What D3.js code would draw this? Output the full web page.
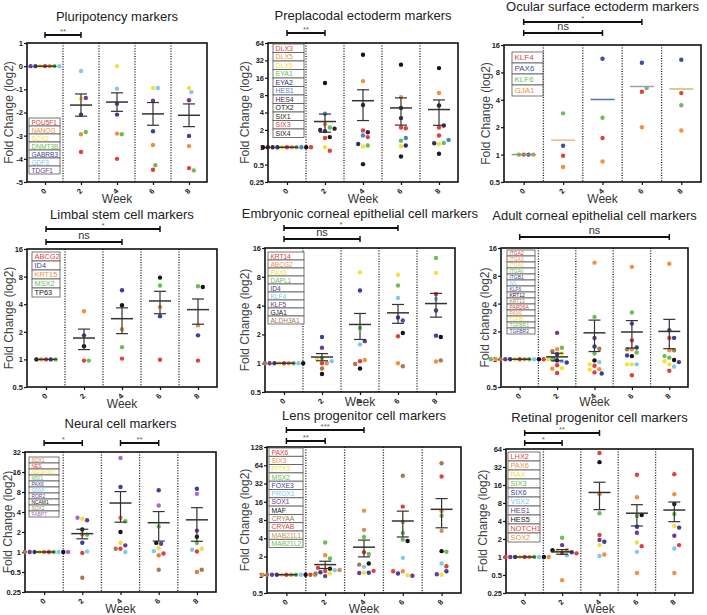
<!DOCTYPE html>
<html><head><meta charset="utf-8">
<script src="https://cdn.jsdelivr.net/npm/d3@7"></script>
<style>body{margin:0;background:#fff} svg{display:block;font-family:"Liberation Sans",Arial,sans-serif}</style>
</head><body><svg id="c" width="707" height="615"></svg>
<script>
const weeks = [0,2,4,6,8];
const weekLabels = ["0","2","4","6","8"];
const RED="#e2403a", ORANGE="#f09040", YELLOW="#f2e040", GREEN="#6dbd55", NAVY="#3c3f96", BLUE="#4f7fcf",
      LBLUE="#80c8ec", PURPLE="#6c3c90", BLACK="#141414", BROWN="#a57a4e", VIOLET="#a868cc", SALMON="#ee7050";

// 1 Pluripotency (log2 values)
const pluriGenes = ["POU5F1","NANOG","SOX2","DNMT3B","GABRB3","GDF3","TDGF1"];
const pluriColors = [RED,ORANGE,YELLOW,GREEN,NAVY,LBLUE,PURPLE];
const pluriValues = [
  [0,-3.7,-4.0,-4.47,-4.4],
  [0,-2.94,-2.91,-3.4,-3.45],
  [0,-1.4,0.0,-0.94,-0.94],
  [0,-2.84,-2.94,-4.28,-4.5],
  [0,-2.09,-2.09,-2.81,-3.01],
  [0,-0.21,-0.97,-0.94,-1.12],
  [0,-1.37,-1.62,-1.49,-1.47]];
const pluriMean = [0,-1.68,-1.55,-2.06,-2.12];
const pluriSem = [0,0.48,0.40,0.49,0.49];
const pluriTicks = [1,0,-1,-2,-3,-4,-5];

// 2 Preplacodal
const prepGenes = ["DLX3","DLX5","DLX6","EYA1","EYA2","HES1","HES4","OTX2","SIX1","SIX3","SIX4"];
const prepColors = [RED,ORANGE,YELLOW,GREEN,"#2c2c6c",BLUE,"#3a1f4a",BLACK,"#2e2418",RED,"#1c1c1c"];
const prepValues = [
  [1,1.45,1.95,2.2,2.2],
  [1,2.5,14,7.4,8.7],
  [1,1.0,1.03,1.04,1.14],
  [1,2.2,1.07,1.3,1.19],
  [1,1.9,1.14,1.07,1.17],
  [1,3.8,1.6,1.45,1.34],
  [1,2.0,1.82,3.2,2.38],
  [1,13,40,27,23.5],
  [1,2.1,5.4,4.8,5.3],
  [1,0.87,1.5,2.14,1.6],
  [1,1.5,0.51,0.69,0.77]];
const prepMean = [1,2.79,6.4,4.8,4.5];
const prepSem = [0,0.97,3.5,2.38,2.1];
const prepTicks = [0.25,0.5,1,2,4,8,16,32,64];

// 3 Ocular surface ectoderm
const ocuGenes = ["KLF4","PAX6","KLF6","GJA1"];
const ocuColors = [RED,"#3d4fa0",GREEN,ORANGE];
const ocuValues = [
  [1,0.97,1.52,4.9,4.74],
  [1,1.25,11.3,10.2,11.0],
  [1,2.84,2.54,5.4,3.48],
  [1,0.73,0.84,2.0,1.84]];
const ocuMean = [1,1.44,4.03,5.6,5.26];
const ocuSem = [0,0,0,0,0];
const ocuMeanColors = ["#8c9c80","#f5b58a","#4f6fc0","#a898b8","#d8b468"];
const ocuTicks = [0.5,1,2,4,8,16];

// 4 Limbal stem cell
const limbGenes = ["ABCG2","ID4","KRT15","MSX2","TP63"];
const limbColors = [RED,NAVY,ORANGE,GREEN,BLACK];
const limbValues = [
  [1,0.97,1.02,0.99,0.97],
  [1,1.83,5.68,2.95,1.83],
  [1,3.35,2.13,3.73,2.35],
  [1,0.97,1.36,6.4,6.27],
  [1,1.39,3.89,7.8,6.17]];
const limbMean = [1,1.71,2.78,4.34,3.49];
const limbSem = [0,0.43,0.87,1.19,1.07];
const limbTicks = [0.5,1,2,4,8,16];

// 5 Embryonic corneal epithelial
const embGenes = ["KRT14","ABCG2","PAX6","DAPL1","ID4","KLF4","KLF5","GJA1","ALDH3A1"];
const embColors = [RED,ORANGE,YELLOW,GREEN,NAVY,LBLUE,PURPLE,BLACK,BROWN];
const embValues = [
  [1,1.0,1.05,1.91,5.3],
  [1,1.0,1.08,1.0,1.04],
  [1,1.1,8.9,8.4,8.8],
  [1,1.13,2.34,6.5,12.6],
  [1,1.88,5.75,3.0,1.94],
  [1,1.05,1.57,4.8,4.7],
  [1,1.45,1.7,2.8,3.55],
  [1,0.77,0.88,2.07,1.88],
  [1,0.88,0.98,0.93,1.07]];
const embMean = [1,1.16,2.54,3.36,4.2];
const embSem = [0,0.1,0.77,0.75,1.17];
const embTicks = [0.5,1,2,4,8,16];

// 6 Adult corneal epithelial
const aduGenes = ["ITGA2","ITGA3","ITGA6","ITGAV","ITGB1","IVL","KLF6","KRT12","KRT13","PARD6A","PAX6","TGFBI","TGFBR1","TGFBR2"];
const aduColors = [RED,ORANGE,YELLOW,GREEN,NAVY,LBLUE,PURPLE,BLACK,BROWN,RED,ORANGE,YELLOW,GREEN,NAVY];
const aduValues = [
  [1,0.86,0.85,1.6,1.7],
  [1,1.28,0.78,1.28,1.25],
  [1,0.8,0.77,0.88,0.88],
  [1,1.33,2.87,3.2,1.04],
  [1,1.13,1.37,1.34,1.7],
  [1,0.95,0.93,0.88,0.83],
  [1,1.93,1.7,2.43,2.06],
  [1,0.97,0.97,1.08,0.98],
  [1,1.22,1.3,1.28,1.25],
  [1,0.71,0.72,0.67,0.75],
  [1,0.79,11.1,10.0,10.8],
  [1,1.15,0.88,0.88,0.95],
  [1,1.0,1.15,1.18,1.08],
  [1,0.92,0.7,1.1,0.93]];
const aduMean = [1,1.06,1.93,1.97,2.0];
const aduSem = [0,0.1,0.72,0.65,0.7];
const aduTicks = [0.5,1,2,4,8,16];

// 7 Neural
const neuGenes = ["SOX1","NES","NEUROD1","MSI1","PAX6","GFAP","ROR2","NCAM1","SOX2","FABP7"];
const neuColors = ["#e07b39",RED,YELLOW,GREEN,NAVY,LBLUE,PURPLE,BLACK,BROWN,VIOLET];
const neuValues = [
  [1,1.84,3.28,0.89,0.5],
  [1,0.97,1.12,0.95,1.02],
  [1,3.17,1.38,1.15,1.12],
  [1,1.82,2.9,2.43,1.37],
  [1,1.38,9.5,8.5,8.96],
  [1,1.02,1.0,1.03,1.08],
  [1,3.0,1.26,1.33,2.1],
  [1,2.19,2.0,1.37,1.7],
  [1,0.41,1.12,0.54,0.54],
  [1,3.28,26,5.0,7.5]];
const neuMean = [1,1.89,5.46,2.76,3.05];
const neuSem = [0,0.31,2.65,1.3,1.6];
const neuTicks = [0.25,0.5,1,2,4,8,16,32];

// 8 Lens progenitor
const lensGenes = ["PAX6","SIX3","PITX3","MSX2","FOXE3","PROX1","SOX1","MAF","CRYAA","CRYAB","MAB21L1","MAB21L2"];
const lensColors = [RED,ORANGE,YELLOW,GREEN,NAVY,LBLUE,PURPLE,BLACK,BROWN,RED,"#d09050",GREEN];
const lensValues = [
  [1,1.15,2.36,13.3,41.7],
  [1,2.1,11.4,1.14,11.3],
  [1,1.05,1.08,0.98,1.0],
  [1,3.4,4.2,3.8,9.4],
  [1,1.1,1.08,1.05,1.14],
  [1,1.19,1.35,1.9,1.53],
  [1,0.95,1.07,0.96,1.02],
  [1,1.26,1.53,3.6,2.45],
  [1,1.05,1.47,43,69],
  [1,1.3,1.16,1.14,1.38],
  [1,1.2,5.5,7.5,5.3],
  [1,1.85,2.2,4.9,2.4]];
const lensMean = [1,1.47,2.85,7.7,12];
const lensSem = [0,0.2,0.88,3.5,6.05];
const lensTicks = [0.5,1,2,4,8,16,32,64,128];

// 9 Retinal progenitor
const retGenes = ["LHX2","PAX6","RAX","SIX3","SIX6","VSX2","HES1","HES5","NOTCH1","SOX2"];
const retColors = [RED,ORANGE,YELLOW,GREEN,NAVY,LBLUE,PURPLE,BLACK,RED,ORANGE];
const retValues = [
  [1,1.17,55,23.7,24.3],
  [1,1.3,11.2,10,11.2],
  [1,1.25,1.58,1.75,3.3],
  [1,2.1,5.4,4.85,5.25],
  [1,1.2,1.8,3.2,3.1],
  [1,1.07,1.04,1.22,1.39],
  [1,1.58,1.92,2.55,2.27],
  [1,1.3,38.6,5.05,7.7],
  [1,1.15,2.33,1.52,1.58],
  [1,0.41,1.1,0.54,0.54]];
const retMean = [1,1.22,12,5.4,6.1];
const retSem = [0,0.11,5.8,2.1,2.2];
const retTicks = [0.25,0.5,1,2,4,8,16,32,64];

const YL = "Fold Change (log2)";
const panels = [
 {title:"Pluripotency markers", genes:pluriGenes, colors:pluriColors, values:pluriValues, mean:pluriMean, sem:pluriSem, ticks:pluriTicks, log:false, dom:[-5,1],
  L:27,T:43,W:180,H:139, titleY:21, ylx:9, ylabel:YL, leg:[29,118,31,8], weekDy:21,
  brackets:[{a:0,b:2,y:35,t:"**"}]},
 {title:"Preplacodal ectoderm markers", genes:prepGenes, colors:prepColors, values:prepValues, mean:prepMean, sem:prepSem, ticks:prepTicks, log:true, dom:[0.25,64],
  L:268,T:43,W:190,H:139, titleY:20, ylx:245, ylabel:YL, leg:[273,44,31,8.5], weekDy:21,
  brackets:[{a:0,b:2,y:33,t:"**"}]},
 {title:"Ocular surface ectoderm markers", genes:ocuGenes, colors:ocuColors, values:ocuValues, mean:ocuMean, sem:ocuSem, meanColors:ocuMeanColors, ticks:ocuTicks, log:true, dom:[0.5,16],
  L:504,T:45,W:197,H:137, titleY:11, ylx:486, ylabel:YL, leg:[512,52,31,11], weekDy:21,
  brackets:[{a:0,b:6,y:22,t:"*"},{a:0,b:4,y:33,t:"ns"}]},
 {title:"Limbal stem cell markers", genes:limbGenes, colors:limbColors, values:limbValues, mean:limbMean, sem:limbSem, ticks:limbTicks, log:true, dom:[0.5,16],
  L:27,T:249,W:190,H:138, titleY:219, ylx:9, ylabel:YL, leg:[32,252,28,9], weekDy:21,
  brackets:[{a:0,b:6,y:229,t:"*"},{a:0,b:4,y:242,t:"ns"}]},
 {title:"Embryonic corneal epithelial cell markers", genes:embGenes, colors:embColors, values:embValues, mean:embMean, sem:embSem, ticks:embTicks, log:true, dom:[0.5,16],
  L:265,T:248,W:190,H:144, titleY:218, ylx:245, ylabel:YL, leg:[268,252,36,8], weekDy:14,
  brackets:[{a:0,b:6,y:228,t:"*"},{a:0,b:4,y:239,t:"ns"}]},
 {title:"Adult corneal epithelial cell markers", genes:aduGenes, colors:aduColors, values:aduValues, mean:aduMean, sem:aduSem, ticks:aduTicks, log:true, dom:[0.5,16],
  L:501,T:248,W:187,H:139, titleY:220, ylx:485, ylabel:"Fold change (log2)", leg:[507,250,28,6], weekDy:19,
  brackets:[{a:0,b:8,y:237,t:"ns"}]},
 {title:"Neural cell markers", genes:neuGenes, colors:neuColors, values:neuValues, mean:neuMean, sem:neuSem, ticks:neuTicks, log:true, dom:[0.25,32],
  L:25,T:452,W:191,H:140, titleY:428, ylx:8, ylabel:YL, leg:[29,457,30,6], weekDy:21,
  brackets:[{a:0,b:2,y:443,t:"*"},{a:4,b:6,y:443,t:"**"}]},
 {title:"Lens progenitor cell markers", genes:lensGenes, colors:lensColors, values:lensValues, mean:lensMean, sem:lensSem, ticks:lensTicks, log:true, dom:[0.5,128],
  L:267,T:447,W:194,H:146, titleY:420, ylx:245, ylabel:YL, leg:[269,448,34,8.3], weekDy:20,
  brackets:[{a:0,b:4,y:430,t:"***"},{a:0,b:2,y:441,t:"**"}]},
 {title:"Retinal progenitor cell markers", genes:retGenes, colors:retColors, values:retValues, mean:retMean, sem:retSem, ticks:retTicks, log:true, dom:[0.25,64],
  L:506,T:449,W:187,H:144, titleY:422, ylx:483, ylabel:YL, leg:[508,452,32,9], weekDy:20,
  brackets:[{a:0,b:4,y:433,t:"**"},{a:0,b:2,y:443,t:"*"}]}
];

const svg = d3.select("#c");
const R = 2.2;

function drawPanel(p){
  const g = svg.append("g");
  const x = d3.scaleLinear().domain([-1,9]).range([p.L, p.L+p.W]);
  const y = (p.log ? d3.scaleLog().base(2) : d3.scaleLinear()).domain(p.dom).range([p.T+p.H, p.T]);
  const B = p.T+p.H;

  g.append("text").attr("x",p.L+p.W/2).attr("y",p.titleY).attr("text-anchor","middle")
    .attr("font-size",13).attr("fill","#222").text(p.title);
  g.append("text").attr("transform",`translate(${p.ylx},${p.T+p.H/2}) rotate(-90)`)
    .attr("text-anchor","middle").attr("dominant-baseline","central").attr("font-size",12).attr("fill","#444").text(p.ylabel);

  [1,3,5,7].forEach(v=>{
    g.append("line").attr("x1",x(v)).attr("x2",x(v)).attr("y1",p.T).attr("y2",B)
      .attr("stroke","#111").attr("stroke-width",1.3).attr("stroke-dasharray","1,1.6");
  });

  const ya = g.append("g").attr("transform",`translate(${p.L},0)`)
    .call(d3.axisLeft(y).tickValues(p.ticks).tickSize(3).tickFormat(d=>String(d)));
  ya.select(".domain").remove();
  ya.selectAll("line").attr("stroke","#111").attr("stroke-width",1.2);
  ya.selectAll("text").attr("font-size",7.5).attr("font-weight","bold").attr("fill","#222").attr("x",-4);

  const xa = g.append("g").attr("transform",`translate(0,${B})`)
    .call(d3.axisBottom(x).tickValues(weeks).tickSize(3).tickFormat((d,i)=>weekLabels[i]));
  xa.select(".domain").remove();
  xa.selectAll("line").attr("stroke","#111").attr("stroke-width",1.2);
  xa.selectAll("text").attr("font-size",7.5).attr("font-weight","bold").attr("fill","#222")
    .attr("y",0).attr("dy",0).attr("text-anchor","middle")
    .attr("transform","translate(0,11) rotate(-45)");

  g.append("text").attr("x",p.L+p.W/2).attr("y",Math.min(B+p.weekDy,613)).attr("text-anchor","middle")
    .attr("font-size",12).attr("fill","#333").text("Week");

  g.append("rect").attr("x",p.L).attr("y",p.T).attr("width",p.W).attr("height",p.H)
    .attr("fill","none").attr("stroke","#111").attr("stroke-width",1.6);

  const [lx,ly,lw,rh] = p.leg;
  const fs = Math.min(8, rh*0.82);
  p.genes.forEach((gname,i)=>{
    g.append("rect").attr("x",lx).attr("y",ly+i*rh).attr("width",lw).attr("height",rh)
      .attr("fill","#fff").attr("stroke","#555").attr("stroke-width",0.8);
    g.append("text").attr("x",lx+2.5).attr("y",ly+i*rh+rh/2).attr("dominant-baseline","central")
      .attr("font-size",fs).attr("fill",p.colors[i]).text(gname);
  });

  weeks.forEach((w,j)=>{
    const cx = x(w), placed=[];
    p.genes.forEach((gname,i)=>{
      const py = y(p.values[i][j]);
      let px = cx;
      for(let k=0;k<40;k++){
        const off = (k===0?0:(k%2? 1:-1)*Math.ceil(k/2)*2.4);
        const tx = cx+off;
        if(placed.every(q=>Math.hypot(q[0]-tx,q[1]-py) >= 2*R+0.3)){ px=tx; break; }
      }
      placed.push([px,py]);
      g.append("circle").attr("cx",px).attr("cy",py).attr("r",R).attr("fill",p.colors[i]);
    });
  });

  weeks.forEach((w,j)=>{
    const cx=x(w), m=p.mean[j], s=p.sem[j];
    const col = p.meanColors ? p.meanColors[j] : "#333";
    const mw = p.meanColors ? 12 : 11;
    g.append("line").attr("x1",cx-mw).attr("x2",cx+mw).attr("y1",y(m)).attr("y2",y(m))
      .attr("stroke",col).attr("stroke-width",1.5);
    if(s>0){
      const hi=y(m+s), lo=y(m-s);
      g.append("line").attr("x1",cx).attr("x2",cx).attr("y1",hi).attr("y2",lo).attr("stroke","#333").attr("stroke-width",1.2);
      [hi,lo].forEach(yy=>g.append("line").attr("x1",cx-6).attr("x2",cx+6).attr("y1",yy).attr("y2",yy).attr("stroke","#333").attr("stroke-width",1.2));
    }
  });

  p.brackets.forEach(b=>{
    const x1=x(b.a), x2=x(b.b);
    g.append("line").attr("x1",x1).attr("x2",x2).attr("y1",b.y).attr("y2",b.y).attr("stroke","#111").attr("stroke-width",1.8);
    [x1,x2].forEach(xx=>g.append("line").attr("x1",xx).attr("x2",xx).attr("y1",b.y-3).attr("y2",b.y+3).attr("stroke","#111").attr("stroke-width",1.5));
    const ns = b.t==="ns";
    g.append("text").attr("x",(x1+x2)/2).attr("y",b.y-(ns?3:1.5)).attr("text-anchor","middle")
      .attr("font-size",ns?11:8).attr("fill",ns?"#333":"#666").text(b.t);
  });
}
panels.forEach(drawPanel);
</script></body></html>
